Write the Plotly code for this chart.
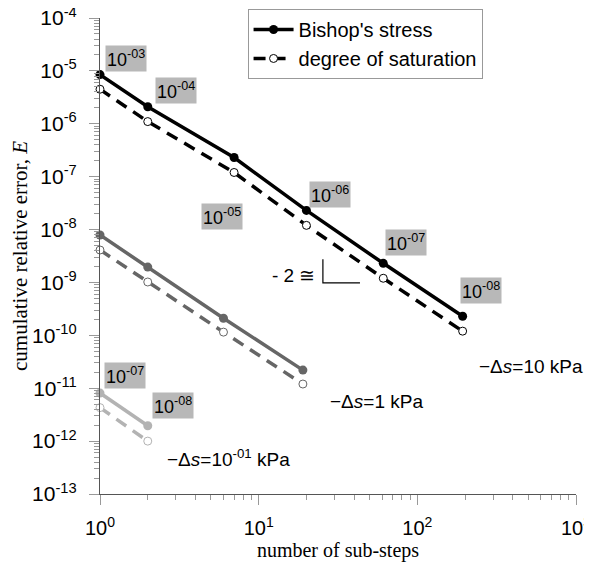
import plotly.graph_objects as go

# ---- data ----
steps_10 = [1, 2, 7, 20, 61, 193]
bishop_10 = [8.5e-6, 2.1e-6, 2.3e-7, 2.3e-8, 2.3e-9, 2.3e-10]
sat_10 = [4.5e-6, 1.1e-6, 1.2e-7, 1.2e-8, 1.2e-9, 1.2e-10]

steps_1 = [1, 2, 6, 19]
bishop_1 = [7.9e-9, 1.95e-9, 2.1e-10, 2.2e-11]
sat_1 = [4.1e-9, 1.02e-9, 1.15e-10, 1.2e-11]

steps_01 = [1, 2]
bishop_01 = [8.1e-12, 1.95e-12]
sat_01 = [4.3e-12, 1.0e-12]

x_decades = [0, 1, 2, 3]
y_decades = [-13, -12, -11, -10, -9, -8, -7, -6, -5, -4]
x_ticktext = ["10<sup>%d</sup>" % d for d in x_decades]
y_ticktext = ["10<sup>%d</sup>" % d for d in y_decades]

tol_labels = ["10<sup>-03</sup>", "10<sup>-04</sup>", "10<sup>-05</sup>", "10<sup>-06</sup>",
              "10<sup>-07</sup>", "10<sup>-08</sup>", "10<sup>-07</sup>", "10<sup>-08</sup>"]
series_labels = ["\u2212\u0394<i>s</i>=10 kPa", "\u2212\u0394<i>s</i>=1 kPa",
                 "\u2212\u0394<i>s</i>=10<sup>-01</sup> kPa"]
slope_label = "- 2 \u2245"
slope_x = [25.4, 25.4, 43.5]
slope_y = [2.75e-9, 9.8e-10, 9.8e-10]

SANS = "Liberation Sans, Arial, sans-serif"
SERIF = "Liberation Serif, Times New Roman, serif"

fig = go.Figure()

def add_series(x, yb, ys, color, show):
    fig.add_trace(go.Scatter(
        x=x, y=yb, mode="lines+markers", name="Bishop's stress",
        line=dict(color=color, width=3.5),
        marker=dict(symbol="circle", size=9, color=color),
        showlegend=show, legendrank=1, cliponaxis=False))
    fig.add_trace(go.Scatter(
        x=x, y=ys, mode="lines+markers", name="degree of saturation",
        line=dict(color=color, width=3.5, dash="12px,8px"),
        marker=dict(symbol="circle", size=8, color="white",
                    line=dict(color=color, width=1)),
        showlegend=show, legendrank=2, cliponaxis=False))

add_series(steps_10, bishop_10, sat_10, "black", True)
add_series(steps_1, bishop_1, sat_1, "#666666", False)
add_series(steps_01, bishop_01, sat_01, "#b3b3b3", False)

fig.add_trace(go.Scatter(x=slope_x, y=slope_y, mode="lines",
                         line=dict(color="black", width=1.2),
                         showlegend=False, hoverinfo="skip"))

annots = []
tol_pos = [(0.164, -4.775), (0.479, -5.38), (0.769, -7.76), (1.45, -7.33),
           (1.929, -8.25), (2.40, -9.16), (0.158, -10.75), (0.46, -11.32)]
for t, (xl, yl) in zip(tol_labels, tol_pos):
    annots.append(dict(x=xl, y=yl, xref="x", yref="y", text=t, showarrow=False,
                       bgcolor="#b8b8b8", borderpad=1,
                       font=dict(family=SANS, size=18, color="black")))
lab_pos = [(2.716, -10.58), (1.74, -11.26), (0.807, -12.32)]
for t, (xl, yl) in zip(series_labels, lab_pos):
    annots.append(dict(x=xl, y=yl, xref="x", yref="y", text=t, showarrow=False,
                       font=dict(family=SANS, size=19, color="black")))
annots.append(dict(x=1.22, y=-8.86, xref="x", yref="y", text=slope_label,
                   showarrow=False, font=dict(family=SANS, size=19, color="black")))

minor_x = [m * 10 ** d for d in x_decades[:-1] for m in range(2, 10)]
minor_y = [m * 10.0 ** d for d in y_decades[:-1] for m in range(2, 10)]

axis_common = dict(type="log", showgrid=False, zeroline=False, automargin=False,
                   showline=True, linecolor="#555555", linewidth=1.2,
                   ticks="outside", ticklen=10, tickcolor="#999999",
                   ticklabeloverflow="allow")

# the page body has an 8px margin: the plot area is placed to land where the reference has it
fig.update_layout(
    width=592, height=567,
    margin=dict(l=92, r=24, t=10, b=81, autoexpand=False),
    plot_bgcolor="white", paper_bgcolor="white",
    annotations=annots,
    legend=dict(x=0.31, y=1.019, xanchor="left", yanchor="top",
                bgcolor="white", bordercolor="#999999", borderwidth=1,
                font=dict(family=SANS, size=20, color="black"),
                itemwidth=40, tracegroupgap=2),
    xaxis=dict(range=[0, 3],
               tickvals=[10 ** d for d in x_decades], ticktext=x_ticktext,
               ticklabelstandoff=6,
               tickfont=dict(family=SANS, size=20, color="black"),
               minor=dict(ticks="outside", ticklen=5, tickcolor="#999999",
                          showgrid=False, tickvals=minor_x),
               title=dict(text="number of sub-steps", standoff=0,
                          font=dict(family=SERIF, size=20, color="black")),
               **axis_common),
    yaxis=dict(range=[-13, -4],
               tickvals=[10.0 ** d for d in y_decades], ticktext=y_ticktext,
               ticklabelstandoff=8,
               tickfont=dict(family=SANS, size=21, color="black"),
               minor=dict(ticks="outside", ticklen=5, tickcolor="#999999",
                          showgrid=False, tickvals=minor_y),
               title=dict(text="cumulative relative error, <i>E</i>", standoff=0,
                          font=dict(family=SERIF, size=21, color="black")),
               **axis_common),
)

fig.write_html("out.html")
